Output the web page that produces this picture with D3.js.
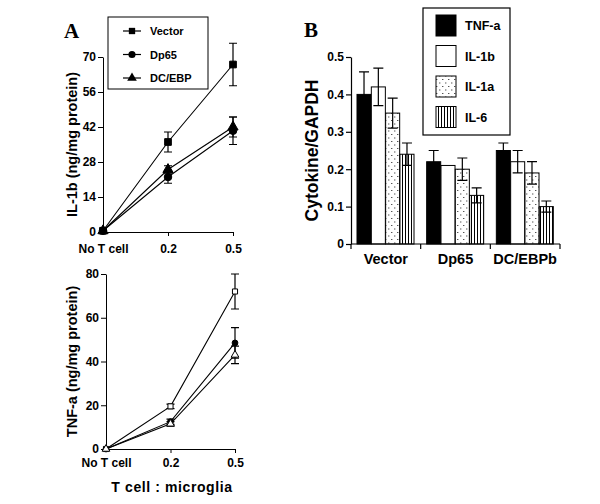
<!DOCTYPE html>
<html>
<head>
<meta charset="utf-8">
<script src="https://cdn.jsdelivr.net/npm/d3@7"></script>
<style>
  body { margin: 0; background: #fff; }
  svg { display: block; font-family: 'Liberation Sans', Arial, sans-serif; }
  .tick text { font-weight: bold; }
</style>
</head>
<body>
<script>
// panel A: dose response
const doses = ['No T cell', '0.2', '0.5']
const seriesNames = ['Vector', 'Dp65', 'DC/EBP']
const il1bTicks = [0, 14, 28, 42, 56, 70]
const tnfTicks = [0, 20, 40, 60, 80]

const il1bVector = [0.5, 36, 67]
const il1bVectorErr = [0, 4, 8.5]
const il1bDp65 = [0.5, 22, 40.5]
const il1bDp65Err = [0, 2.5, 5.5]
const il1bDcebp = [0.5, 25, 42]
const il1bDcebpErr = [0, 1.5, 4]

const tnfVector = [0, 19.5, 72]
const tnfVectorErr = [0, 1, 8]
const tnfDp65 = [0, 12.5, 48.5]
const tnfDp65Err = [0, 1.2, 7]
const tnfDcebp = [0, 11.5, 43]
const tnfDcebpErr = [0, 1, 4]

// panel B: cytokine / GAPDH
const groups = ['Vector', 'Dp65', 'DC/EBPb']
const cytokines = ['TNF-a', 'IL-1b', 'IL-1a', 'IL-6']
const ratioTicks = [0, 0.1, 0.2, 0.3, 0.4, 0.5]
const tnfRatio = [0.40, 0.22, 0.25]
const tnfRatioErr = [0.06, 0.03, 0.02]
const il1bRatio = [0.42, 0.21, 0.22]
const il1bRatioErr = [0.05, 0, 0.03]
const il1aRatio = [0.35, 0.20, 0.19]
const il1aRatioErr = [0.04, 0.03, 0.03]
const il6Ratio = [0.24, 0.13, 0.10]
const il6RatioErr = [0.03, 0.02, 0.015]

;(function () {
  const svg = d3.select('body').append('svg')
    .attr('width', 600).attr('height', 504)

  const defs = svg.append('defs')
  const dots = defs.append('pattern').attr('id', 'dots')
    .attr('patternUnits', 'userSpaceOnUse').attr('width', 6).attr('height', 7)
  dots.append('rect').attr('width', 6).attr('height', 7).attr('fill', '#fff')
  dots.append('rect').attr('x', 1).attr('y', 1).attr('width', 1.4).attr('height', 1).attr('fill', '#555')
  dots.append('rect').attr('x', 4).attr('y', 4.5).attr('width', 1.4).attr('height', 1).attr('fill', '#555')
  const stripes = defs.append('pattern').attr('id', 'stripes')
    .attr('patternUnits', 'userSpaceOnUse').attr('width', 3).attr('height', 4)
  stripes.append('rect').attr('width', 3).attr('height', 4).attr('fill', '#fff')
  stripes.append('rect').attr('x', 0).attr('width', 1).attr('height', 4).attr('fill', '#000')

  const markerTypes = [d3.symbolSquare, d3.symbolCircle, d3.symbolTriangle]

  // ---- line panels
  function linePanel (opts) {
    const x = d3.scalePoint().domain(doses).range(opts.xr)
    const y = d3.scaleLinear().domain([0, opts.max]).range(opts.yr)
    const g = svg.append('g')

    g.append('g').attr('transform', `translate(0,${opts.yr[0]})`)
      .call(d3.axisBottom(x).tickSize(4).tickSizeOuter(0).tickPadding(opts.xpad))
      .call(a => a.selectAll('.tick text').attr('font-size', 12))
      .call(a => a.selectAll('.tick').filter((d, i) => i === 0).select('line').remove())
    g.append('g').attr('transform', `translate(${opts.xr[0]},0)`)
      .call(d3.axisLeft(y).tickValues(opts.ticks).tickSize(5).tickSizeOuter(0).tickPadding(2))
      .call(a => a.selectAll('.tick text').attr('font-size', 12))

    const line = d3.line().x((d, i) => x(doses[i])).y(d => y(d))
    opts.series.forEach((s, k) => {
      g.append('path').datum(s.vals)
        .attr('fill', 'none').attr('stroke', '#000').attr('stroke-width', 1.1)
        .attr('d', line)
      s.vals.forEach((v, i) => {
        const e = s.err[i]
        if (e > 0) {
          const cx = x(doses[i])
          g.append('path')
            .attr('d', `M${cx},${y(v - e)}V${y(v + e)}M${cx - 4},${y(v + e)}H${cx + 4}M${cx - 4},${y(v - e)}H${cx + 4}`)
            .attr('stroke', '#000').attr('stroke-width', 1.2).attr('fill', 'none')
        }
        g.append('path')
          .attr('transform', `translate(${x(doses[i])},${y(v)})`)
          .attr('d', d3.symbol().type(markerTypes[k]).size(opts.msize)())
          .attr('fill', opts.open[k] ? '#fff' : '#000')
          .attr('stroke', '#000').attr('stroke-width', 1)
      })
    })

    g.append('text')
      .attr('transform', `translate(${opts.labelX},${(opts.yr[0] + opts.yr[1]) / 2}) rotate(-90)`)
      .attr('text-anchor', 'middle').attr('font-weight', 'bold').attr('font-size', 14.5)
      .text(opts.label)
    return g
  }

  linePanel({
    xr: [103, 233], yr: [232, 57], max: 70, ticks: il1bTicks, msize: 45, xpad: 8,
    open: [false, false, false], labelX: 77, label: 'IL-1b (ng/mg protein)',
    series: [
      { vals: il1bVector, err: il1bVectorErr },
      { vals: il1bDp65, err: il1bDp65Err },
      { vals: il1bDcebp, err: il1bDcebpErr }
    ]
  })

  linePanel({
    xr: [106, 235], yr: [449, 274], max: 80, ticks: tnfTicks, msize: 26, xpad: 5,
    open: [true, false, true], labelX: 77, label: 'TNF-a (ng/mg protein)',
    series: [
      { vals: tnfVector, err: tnfVectorErr },
      { vals: tnfDp65, err: tnfDp65Err },
      { vals: tnfDcebp, err: tnfDcebpErr }
    ]
  })

  svg.append('text').attr('x', 172).attr('y', 492).attr('text-anchor', 'middle')
    .attr('font-weight', 'bold').attr('font-size', 14).attr('letter-spacing', 0.6)
    .text('T cell : microglia')

  // legend A
  const legA = svg.append('g').attr('transform', 'translate(108,17)')
  legA.append('rect').attr('width', 100).attr('height', 72)
    .attr('fill', '#fff').attr('stroke', '#000').attr('stroke-width', 1)
  seriesNames.forEach((n, k) => {
    const ly = 14 + k * 23.5
    legA.append('line').attr('x1', 15).attr('x2', 33).attr('y1', ly).attr('y2', ly)
      .attr('stroke', '#000').attr('stroke-width', 1.2)
    legA.append('path').attr('transform', `translate(24,${ly})`)
      .attr('d', d3.symbol().type(markerTypes[k]).size(40)())
    legA.append('text').attr('x', 42).attr('y', ly + 4)
      .attr('font-weight', 'bold').attr('font-size', 11).text(n)
  })

  svg.append('text').attr('x', 64).attr('y', 38)
    .attr('font-family', "'Liberation Serif', 'Times New Roman', serif")
    .attr('font-weight', 'bold').attr('font-size', 21).text('A')

  // ---- bar panel B
  const x0 = d3.scaleBand().domain(groups).range([351, 560])
  const x1 = d3.scaleBand().domain(cytokines).range([6, 63]).paddingInner(0.02)
  const yb = d3.scaleLinear().domain([0, 0.5]).range([244, 57])
  const fills = ['#000', '#fff', 'url(#dots)', 'url(#stripes)']
  const vals = [tnfRatio, il1bRatio, il1aRatio, il6Ratio]
  const errs = [tnfRatioErr, il1bRatioErr, il1aRatioErr, il6RatioErr]

  const gb = svg.append('g')
  groups.forEach((grp, gi) => {
    cytokines.forEach((c, ci) => {
      const v = vals[ci][gi]
      const e = errs[ci][gi]
      const bx = x0(grp) + x1(c)
      const bw = x1.bandwidth()
      gb.append('rect').attr('x', bx).attr('y', yb(v))
        .attr('width', bw).attr('height', yb(0) - yb(v))
        .attr('fill', fills[ci]).attr('stroke', '#000').attr('stroke-width', 1)
      if (e > 0) {
        const cx = bx + bw / 2
        gb.append('path')
          .attr('d', `M${cx},${yb(v - e)}V${yb(v + e)}M${cx - 5},${yb(v + e)}H${cx + 5}M${cx - 5},${yb(v - e)}H${cx + 5}`)
          .attr('stroke', '#000').attr('stroke-width', 1.2).attr('fill', 'none')
      }
    })
  })

  // x axis with group boundary ticks
  const bx = gb.append('g').attr('transform', `translate(0,${yb(0)})`)
  bx.append('line').attr('x1', 351).attr('x2', 560).attr('stroke', '#000').attr('stroke-width', 1.2)
  const bounds = [x0(groups[0])].concat(groups.map(g => x0(g) + x0.bandwidth()))
  bx.selectAll('.bt').data(bounds).enter().append('line')
    .attr('x1', d => d).attr('x2', d => d).attr('y1', 0).attr('y2', 5)
    .attr('stroke', '#000').attr('stroke-width', 1.2)
  bx.selectAll('.bl').data(groups).enter().append('text')
    .attr('x', d => x0(d) + x0.bandwidth() / 2).attr('y', 20)
    .attr('text-anchor', 'middle').attr('font-size', 14.5).attr('font-weight', 'bold')
    .text(d => d)

  gb.append('g').attr('transform', 'translate(351,0)')
    .call(d3.axisLeft(yb).tickValues(ratioTicks).tickFormat(d => d === 0 ? '0' : d3.format('.1f')(d))
      .tickSize(5).tickSizeOuter(0).tickPadding(2))
    .call(a => a.selectAll('.tick text').attr('font-size', 12))
    .call(a => a.selectAll('path, line').attr('stroke-width', 1.2))

  svg.append('text')
    .attr('transform', `translate(318,${(244 + 57) / 2}) rotate(-90)`)
    .attr('text-anchor', 'middle').attr('font-weight', 'bold').attr('font-size', 17.5)
    .text('Cytokine/GAPDH')

  // legend B
  const legB = svg.append('g').attr('transform', 'translate(423,8)')
  legB.append('rect').attr('width', 87).attr('height', 127)
    .attr('fill', '#fff').attr('stroke', '#000').attr('stroke-width', 1.2)
  cytokines.forEach((c, ci) => {
    const ly = 7 + ci * 30.5
    legB.append('rect').attr('x', 13).attr('y', ly).attr('width', 20).attr('height', 21)
      .attr('fill', fills[ci]).attr('stroke', '#000').attr('stroke-width', 1)
    legB.append('text').attr('x', 42).attr('y', ly + 15)
      .attr('font-weight', 'bold').attr('font-size', 12.5).text(c)
  })

  svg.append('text').attr('x', 304).attr('y', 37)
    .attr('font-family', "'Liberation Serif', 'Times New Roman', serif")
    .attr('font-weight', 'bold').attr('font-size', 21).text('B')
})()
</script>
</body>
</html>
